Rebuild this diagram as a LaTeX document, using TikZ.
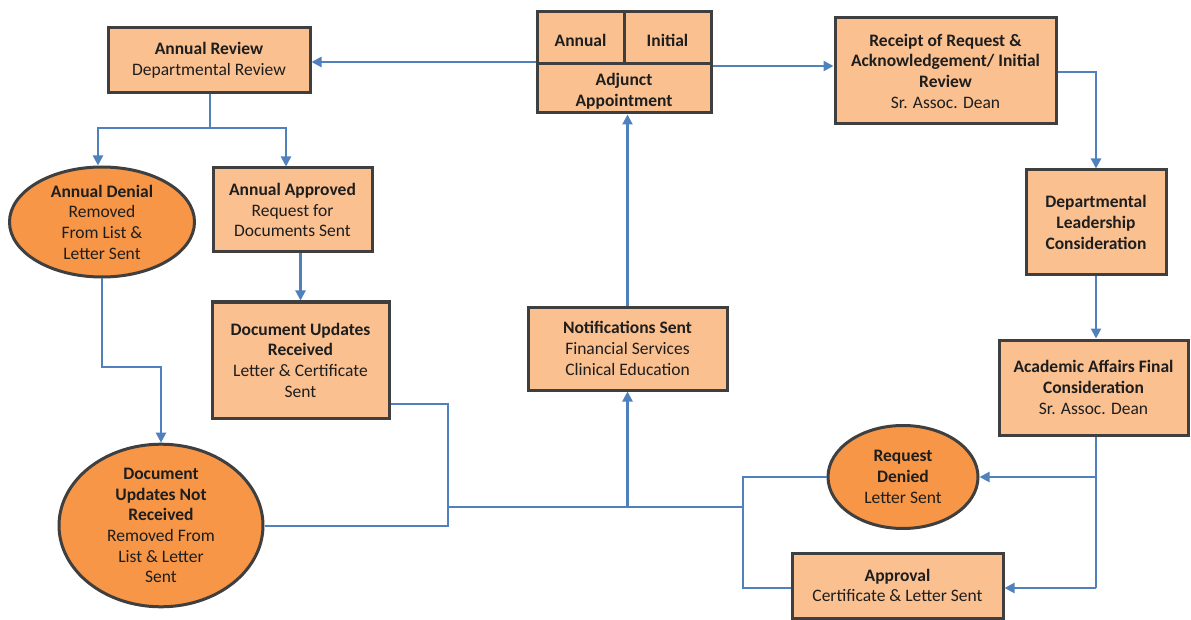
\documentclass[tikz,border=0pt]{standalone}
\usepackage{fontspec}
\setmainfont{Carlito}
\usetikzlibrary{shapes.geometric,arrows.meta}
\definecolor{boxfill}{HTML}{FAC090}
\definecolor{ovalfill}{HTML}{F79646}
\definecolor{edgegray}{HTML}{3F3F3F}
\definecolor{linkblue}{HTML}{4F81BD}
\definecolor{inkgray}{HTML}{1E1E1E}
\tikzset{
  stepbox/.style={rectangle, draw=edgegray, fill=boxfill, line width=3pt,
    inner sep=0pt, align=center, text=inkgray},
  stepoval/.style={ellipse, draw=edgegray, fill=ovalfill, line width=3pt,
    inner sep=0pt, align=center, text=inkgray},
  linkline/.style={draw=linkblue, line width=2.2pt},
  linkarrow/.style={linkline, -{Triangle[length=10pt,width=10pt]}},
}
\begin{document}
\begin{tikzpicture}[x=1pt,y=-1pt,font=\fontsize{17.5}{20.7}\selectfont]
\useasboundingbox (0,0) rectangle (1191,620);

% top row
\node[stepbox, minimum width=202pt, minimum height=65pt] (arev) at (209,60.5)
  {\textbf{Annual Review}\\Departmental Review};
\node[stepbox, minimum width=174pt, minimum height=101pt] (adjbox) at (624,62.5) {};
\node[stepbox, minimum width=87pt, minimum height=52pt] (annual) at (580.5,38) {};
\node[stepbox, minimum width=87pt, minimum height=52pt] (initial) at (667.5,38) {};
\node[stepbox, minimum width=174pt, minimum height=49pt] (adjunct) at (624,88.5) {};
\node[text=inkgray] (annualtext) at (580.5,40) {\textbf{Annual}};
\node[text=inkgray] (initialtext) at (667.5,40) {\textbf{Initial}};
\node[align=center, text=inkgray] (adjtext) at (624,91)
  {\textbf{Adjunct}\\\textbf{Appointment}};
\node[stepbox, minimum width=221pt, minimum height=106pt] (receipt) at (945.5,71)
  {\textbf{Receipt of Request \&}\\\textbf{Acknowledgement/ Initial}\\\textbf{Review}\\Sr. Assoc. Dean};

% right column
\node[stepbox, minimum width=140pt, minimum height=105pt] (dept) at (1096,222.5)
  {\textbf{Departmental}\\\textbf{Leadership}\\\textbf{Consideration}};
\node[stepbox, minimum width=189pt, minimum height=95pt] (acad) at (1093.5,387.5)
  {\textbf{Academic Affairs Final}\\\textbf{Consideration}\\Sr. Assoc. Dean};
\node[stepoval, minimum width=150pt, minimum height=103pt] (denied) at (903,477)
  {\textbf{Request}\\\textbf{Denied}\\Letter Sent};
\node[stepbox, minimum width=211pt, minimum height=65pt] (appr) at (897.5,585.5)
  {\textbf{Approval}\\Certificate \& Letter Sent};

% middle
\node[stepbox, minimum width=199pt, minimum height=83pt] (notif) at (627.5,348.5)
  {\textbf{Notifications Sent}\\Financial Services\\Clinical Education};

% left side
\node[stepoval, minimum width=185pt, minimum height=110pt] (denial) at (102,222)
  {\textbf{Annual Denial}\\Removed\\From List \&\\Letter Sent};
\node[stepbox, minimum width=159pt, minimum height=84pt] (approved) at (292.5,210)
  {\textbf{Annual Approved}\\Request for\\Documents Sent};
\node[stepbox, minimum width=177pt, minimum height=116pt] (docrec) at (300.5,360)
  {\textbf{Document Updates}\\\textbf{Received}\\Letter \& Certificate\\Sent};
\node[stepoval, minimum width=204pt, minimum height=139pt] (docnot) at (161,525.5)
  {\textbf{Document}\\\textbf{Updates Not}\\\textbf{Received}\\Removed From\\List \& Letter\\Sent};

% junction points of the connector network
\coordinate (asplit) at (210,128);
\coordinate (busright) at (743,507);
\coordinate (busleft) at (448,507);

% adjunct appointment branches
\draw[linkarrow] (adjbox.west |- 0,62) -- (arev.east |- 0,62);
\draw[linkarrow] (adjbox.east |- 0,66) -- (receipt.west |- 0,66);

% initial appointment path
\draw[linkarrow] (receipt.east |- 0,72) -| (dept.north);
\draw[linkarrow] (dept.south) -- (dept.south |- acad.north);
\draw[linkline] (acad.south -| dept.south) -- (dept.south |- 0,588);
\draw[linkarrow] (dept.south |- 0,588) -- (appr.east |- 0,588);
\draw[linkarrow] (denied.east -| dept.south) -- (denied.east);

% outcomes feed the notification bus
\draw[linkline] (denied.west) -| (busright) |- (appr.west |- 0,588);
\draw[linkline] (busright) -- (busleft);
\draw[linkarrow] (notif.south |- busleft) -- (notif.south);
\draw[linkarrow] (notif.north) -- (notif.north |- adjbox.south);

% annual review path
\draw[linkline] (arev.south -| asplit) -- (asplit);
\draw[linkarrow] (asplit) -| ([xshift=-4pt]denial.north);
\draw[linkarrow] (asplit) -| ([xshift=-6.5pt]approved.north);
\draw[linkarrow] (docrec.north |- approved.south) -- (docrec.north);
\draw[linkarrow] (denial.south) |- (docnot.north |- 0,367) -- (docnot.north);
\draw[linkline] (docrec.east |- 0,404) -| (busleft |- 0,526) -- (docnot.east |- 0,526);
\end{tikzpicture}
\end{document}
